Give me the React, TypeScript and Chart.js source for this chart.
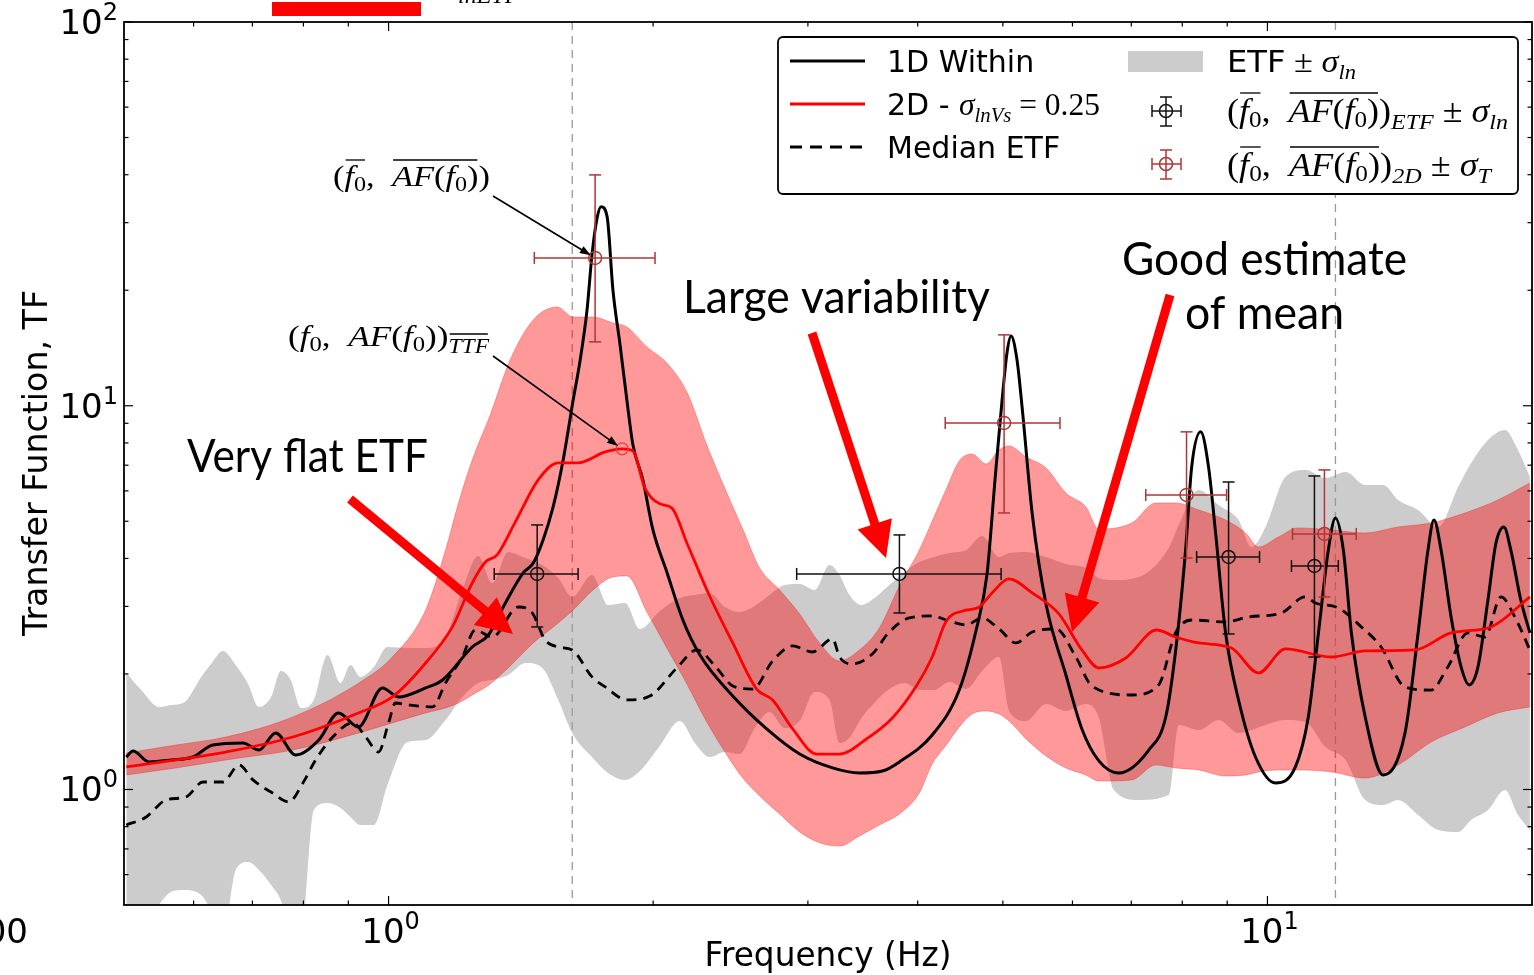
import React, { useEffect, useRef } from "react";
import { Chart, registerables } from "chart.js";
Chart.register(...registerables);

// ---------------- data ----------------
// 1D Within transfer function
const freq1D = [0.503, 0.512, 0.534, 0.566, 0.599, 0.631, 0.683, 0.712, 0.744, 0.784, 0.833, 0.877, 0.924, 0.984, 1.026, 1.102, 1.152, 1.245, 1.299, 1.358, 1.423, 1.461, 1.499, 1.539, 1.580, 1.622, 1.652, 1.682, 1.704, 1.727, 1.745, 1.773, 1.800, 1.834, 1.867, 1.897, 1.947, 1.999, 2.073, 2.162, 2.261, 2.464, 2.693, 2.936, 3.200, 3.434, 3.647, 3.813, 4.155, 4.460, 4.662, 4.797, 4.898, 4.990, 5.056, 5.108, 5.189, 5.258, 5.40, 5.598, 5.898, 6.15, 6.43, 6.77, 7.328, 7.661, 7.864, 8.07, 8.20, 8.395, 8.57, 8.73, 8.962, 9.271, 9.692, 10.21, 10.76, 11.13, 11.43, 11.73, 11.95, 12.20, 12.46, 12.92, 13.54, 14.34, 14.84, 15.23, 15.47, 15.76, 16.18, 16.61, 16.96, 17.36, 17.82, 18.20, 18.58, 18.92, 19.42, 19.89];
const tf1D = [1.215, 1.26, 1.18, 1.194, 1.215, 1.306, 1.322, 1.267, 1.404, 1.23, 1.346, 1.583, 1.455, 1.839, 1.742, 1.839, 1.929, 2.351, 2.527, 3.063, 3.667, 3.894, 4.47, 5.45, 7.22, 10.35, 13.16, 17.77, 24.72, 30.87, 33.0, 31.05, 20.04, 14.40, 10.35, 7.904, 6.41, 4.746, 3.688, 2.765, 2.241, 1.752, 1.438, 1.237, 1.138, 1.104, 1.117, 1.18, 1.387, 1.816, 2.604, 3.645, 6.41, 10.35, 13.81, 15.20, 13.16, 9.93, 5.224, 3.044, 1.988, 1.438, 1.187, 1.104, 1.267, 1.545, 2.31, 4.209, 6.928, 8.55, 6.928, 4.661, 2.558, 1.711, 1.215, 1.04, 1.145, 1.545, 2.558, 4.209, 5.10, 4.209, 2.558, 1.545, 1.091, 1.404, 2.558, 4.209, 5.039, 4.209, 2.816, 2.086, 1.873, 2.086, 3.118, 4.39, 4.83, 4.209, 3.118, 2.558];

// 2D mean (sigma_lnVs = 0.25)
const freq2D = [0.503, 0.573, 0.653, 0.778, 0.924, 1.010, 1.102, 1.182, 1.245, 1.289, 1.329, 1.394, 1.480, 1.560, 1.643, 1.764, 1.844, 1.897, 1.957, 2.035, 2.101, 2.185, 2.319, 2.464, 2.623, 2.735, 2.883, 3.069, 3.26, 3.498, 3.743, 3.986, 4.155, 4.311, 4.50, 4.70, 4.86, 5.08, 5.40, 5.79, 6.15, 6.43, 6.90, 7.48, 7.86, 8.35, 9.10, 9.77, 10.48, 11.82, 12.92, 14.72, 16.18, 17.96, 19.89];
const tf2D = [1.145, 1.194, 1.252, 1.370, 1.583, 1.742, 2.136, 2.652, 3.452, 3.916, 4.086, 4.98, 6.41, 7.10, 7.10, 7.58, 7.72, 7.62, 6.11, 5.55, 5.41, 4.39, 3.193, 2.409, 1.827, 1.711, 1.438, 1.237, 1.237, 1.354, 1.536, 1.861, 2.214, 2.749, 2.919, 2.989, 3.252, 3.537, 3.252, 2.867, 2.31, 2.073, 2.201, 2.604, 2.497, 2.409, 2.338, 2.012, 2.324, 2.214, 2.296, 2.31, 2.558, 2.652, 3.175];

// Median ETF
const freqMed = [0.503, 0.530, 0.558, 0.588, 0.615, 0.648, 0.676, 0.701, 0.738, 0.770, 0.799, 0.826, 0.864, 0.910, 0.942, 0.974, 1.0, 1.018, 1.054, 1.122, 1.161, 1.213, 1.255, 1.312, 1.405, 1.457, 1.507, 1.560, 1.618, 1.704, 1.764, 1.867, 1.983, 2.128, 2.243, 2.362, 2.464, 2.596, 2.735, 2.883, 3.036, 3.20, 3.26, 3.372, 3.552, 3.713, 3.913, 4.155, 4.34, 4.542, 4.735, 4.95, 5.176, 5.40, 5.745, 6.054, 6.313, 7.011, 7.52, 7.86, 8.20, 8.96, 9.515, 10.37, 11.04, 11.34, 12.04, 12.79, 13.47, 14.34, 15.35, 16.04, 16.91, 17.68, 18.44, 19.12, 19.89];
const tfMed = [0.808, 0.848, 0.939, 0.956, 1.046, 1.046, 1.158, 1.059, 0.979, 0.928, 1.04, 1.194, 1.370, 1.491, 1.370, 1.252, 1.491, 1.68, 1.661, 1.641, 1.895, 2.214, 2.604, 2.497, 2.989, 2.884, 2.453, 2.351, 2.31, 1.965, 1.85, 1.711, 1.752, 2.073, 2.31, 2.073, 1.861, 1.827, 2.162, 2.366, 2.282, 2.467, 2.214, 2.124, 2.255, 2.573, 2.799, 2.833, 2.749, 2.684, 2.799, 2.62, 2.409, 2.573, 2.62, 2.214, 1.861, 1.763, 1.873, 2.558, 2.765, 2.733, 2.816, 2.884, 3.175, 3.063, 2.972, 2.652, 2.351, 1.85, 1.816, 2.086, 2.558, 2.497, 3.175, 2.816, 2.31];

// ETF +/- sigma_ln band
const freqEtfBand = [0.503, 0.523, 0.548, 0.566, 0.584, 0.612, 0.628, 0.648, 0.670, 0.692, 0.712, 0.735, 0.754, 0.774, 0.795, 0.822, 0.852, 0.882, 0.905, 0.929, 0.962, 0.997, 1.051, 1.102, 1.161, 1.213, 1.265, 1.312, 1.368, 1.431, 1.496, 1.560, 1.618, 1.704, 1.777, 1.858, 1.932, 2.035, 2.145, 2.231, 2.320, 2.413, 2.509, 2.610, 2.714, 2.822, 2.936, 3.053, 3.175, 3.259, 3.345, 3.451, 3.571, 3.714, 3.863, 4.017, 4.177, 4.345, 4.542, 4.735, 4.950, 5.082, 5.313, 5.598, 5.898, 6.215, 6.430, 6.687, 7.139, 7.721, 7.925, 8.350, 8.798, 9.271, 9.592, 9.949, 10.48, 11.05, 11.64, 12.27, 12.92, 13.54, 14.08, 14.84, 15.64, 16.48, 17.05, 17.82, 18.63, 19.28, 19.89];
const etfUpper = [2.012, 1.816, 1.641, 1.661, 1.680, 1.965, 2.124, 2.296, 2.111, 1.884, 1.641, 1.742, 2.036, 1.929, 1.631, 1.711, 2.241, 1.895, 2.111, 1.965, 2.086, 2.351, 2.338, 2.338, 2.497, 3.311, 4.060, 3.452, 4.159, 4.011, 3.846, 3.558, 3.175, 3.622, 3.026, 3.063, 2.620, 2.919, 3.155, 3.213, 3.252, 2.989, 2.901, 3.007, 3.213, 3.412, 3.432, 3.311, 3.846, 3.622, 3.213, 3.026, 3.155, 3.412, 3.688, 3.916, 4.036, 4.134, 4.209, 4.578, 4.036, 4.134, 4.159, 4.036, 3.870, 3.778, 3.558, 3.516, 3.580, 4.260, 4.891, 6.034, 5.514, 5.039, 4.285, 4.832, 6.524, 6.804, 6.485, 6.723, 6.218, 6.218, 5.682, 5.352, 4.832, 6.144, 7.094, 8.146, 8.649, 7.670, 6.524];
const etfLower = [0.42, 0.42, 0.50, 0.541, 0.547, 0.531, 0.485, 0.42, 0.617, 0.647, 0.617, 0.564, 0.515, 0.42, 0.42, 0.884, 0.922, 0.895, 0.848, 0.808, 0.808, 1.027, 1.330, 1.346, 1.518, 1.742, 1.895, 1.929, 1.988, 2.136, 2.073, 1.711, 1.404, 1.215, 1.104, 1.059, 1.117, 1.298, 1.508, 1.322, 1.215, 1.252, 1.237, 1.446, 1.592, 1.446, 1.508, 1.795, 1.711, 1.322, 1.362, 1.536, 1.680, 1.827, 1.895, 1.816, 1.816, 1.906, 1.827, 2.036, 2.214, 1.602, 1.508, 1.670, 1.602, 1.670, 1.536, 0.997, 0.939, 0.967, 1.473, 1.429, 1.518, 1.404, 1.429, 1.473, 1.518, 1.499, 1.290, 1.194, 0.939, 0.911, 0.939, 0.858, 0.784, 0.775, 0.833, 0.884, 0.997, 0.858, 0.784];

// 2D +/- sigma band
const freq2DBand = [0.503, 0.573, 0.653, 0.778, 0.925, 1.010, 1.102, 1.161, 1.201, 1.245, 1.305, 1.375, 1.461, 1.555, 1.622, 1.709, 1.800, 1.867, 1.968, 2.073, 2.185, 2.302, 2.426, 2.529, 2.644, 2.786, 2.936, 3.093, 3.259, 3.434, 3.618, 3.813, 4.017, 4.155, 4.311, 4.460, 4.613, 4.785, 4.950, 5.082, 5.313, 5.598, 5.898, 6.215, 6.430, 7.009, 7.463, 7.864, 8.350, 8.962, 9.443, 9.768, 10.29, 10.84, 11.82, 12.92, 14.08, 15.36, 16.78, 18.29, 19.89];
const band2DUpper = [1.245, 1.306, 1.370, 1.545, 1.895, 2.214, 2.937, 4.209, 5.580, 7.22, 9.462, 13.16, 16.74, 18.09, 17.03, 17.03, 16.44, 16.05, 14.23, 12.93, 10.86, 7.904, 5.926, 4.775, 3.778, 3.311, 2.867, 2.409, 2.162, 2.310, 2.636, 3.391, 4.209, 5.009, 6.070, 7.180, 7.487, 7.053, 7.670, 7.857, 7.354, 6.886, 5.926, 5.45, 4.775, 4.949, 5.580, 5.580, 5.352, 5.039, 4.661, 4.285, 4.551, 4.803, 4.746, 4.661, 4.832, 4.949, 5.255, 5.682, 6.293];
const band2DLower = [1.091, 1.138, 1.194, 1.267, 1.404, 1.491, 1.583, 1.631, 1.680, 1.763, 1.884, 2.098, 2.409, 2.700, 2.937, 3.311, 3.580, 3.601, 2.901, 2.338, 1.884, 1.499, 1.230, 1.071, 0.962, 0.863, 0.775, 0.726, 0.712, 0.756, 0.808, 0.863, 0.979, 1.166, 1.306, 1.455, 1.573, 1.602, 1.573, 1.508, 1.354, 1.223, 1.138, 1.091, 1.052, 1.059, 1.158, 1.138, 1.124, 1.084, 1.091, 1.111, 1.124, 1.124, 1.111, 1.071, 1.158, 1.330, 1.455, 1.583, 1.641];

// (f0, AF(f0))_ETF +/- sigma_ln error bars
const ebEtfF = [1.476, 3.813, 9.032, 11.31];
const ebEtfFLo = [1.319, 2.913, 8.307, 10.65];
const ebEtfFHi = [1.643, 4.977, 9.795, 12.04];
const ebEtfV = [3.645, 3.645, 4.036, 3.824];
const ebEtfVLo = [2.652, 2.884, 2.543, 2.214];
const ebEtfVHi = [4.891, 4.606, 6.329, 6.561];

// (f0, AF(f0))_2D +/- sigma_T error bars
const eb2DF = [1.718, 5.016, 8.09, 11.61];
const eb2DFLo = [1.465, 4.299, 7.27, 10.68];
const eb2DFHi = [2.010, 5.807, 8.985, 12.62];
const eb2DV = [24.28, 9.02, 5.856, 4.634];
const eb2DVLo = [14.67, 5.255, 4.011, 3.175];
const eb2DVHi = [39.95, 15.30, 8.55, 6.804];

// TTF peak marker and vertical reference lines
const ttfPeakF = 1.844;
const ttfPeakV = 7.72;
const vLinesF = [1.618, 11.95];

// axis ticks
const xMajorTicks = [1, 10];
const xMajorExp = ["0", "1"];
const xMinorTicks = [0.6, 0.7, 0.8, 0.9, 2, 3, 4, 5, 6, 7, 8, 9];
const yMajorTicks = [1, 10, 100];
const yMajorExp = ["0", "1", "2"];
const yMinorTicks = [0.6, 0.7, 0.8, 0.9, 2, 3, 4, 5, 6, 7, 8, 9, 20, 30, 40, 50, 60, 70, 80, 90];

// ---------------- drawing helpers ----------------
const SANS = '"DejaVu Sans", sans-serif';
const SERIF = '"Liberation Serif", "DejaVu Serif", serif';
const LATO = 'Lato, "Open Sans", sans-serif';

type Seg = { t: string; f?: string; i?: boolean; s: number; dy?: number; ol?: number };

function fontOf(g: Seg) {
  const fam = g.f === "sans" ? SANS : g.f === "lato" ? LATO : SERIF;
  return `${g.i ? "italic " : ""}${g.s}px ${fam}`;
}

function drawRich(ctx: CanvasRenderingContext2D, x: number, y: number, segs: Seg[], opts: any = {}) {
  let nat = 0;
  for (const g of segs) {
    ctx.font = fontOf(g);
    nat += ctx.measureText(g.t).width;
  }
  const k = opts.w ? opts.w / nat : 1;
  const total = nat * k;
  const color = opts.color || "#000";
  ctx.save();
  ctx.translate(x, y);
  if (opts.rot) ctx.rotate(opts.rot);
  const x0 = opts.align === "center" ? -total / 2 : opts.align === "right" ? -total : 0;
  ctx.translate(x0, 0);
  ctx.scale(k, 1);
  ctx.textAlign = "left";
  ctx.textBaseline = "alphabetic";
  ctx.fillStyle = color;
  let cx = 0;
  const ols: { a: number; b: number; o: number }[] = [];
  for (const g of segs) {
    ctx.font = fontOf(g);
    const w = ctx.measureText(g.t).width;
    ctx.fillText(g.t, cx, g.dy || 0);
    if (g.ol) {
      const last = ols[ols.length - 1];
      if (last && last.o === g.ol && Math.abs(last.b - cx) < 0.5) last.b = cx + w;
      else ols.push({ a: cx, b: cx + w, o: g.ol });
    }
    cx += w;
  }
  ctx.strokeStyle = color;
  ctx.lineWidth = 1.3;
  for (const o of ols) {
    ctx.beginPath();
    ctx.moveTo(o.a + 1, -o.o);
    ctx.lineTo(o.b - 1, -o.o);
    ctx.stroke();
  }
  ctx.restore();
}

function line(ctx: CanvasRenderingContext2D, x1: number, y1: number, x2: number, y2: number) {
  ctx.beginPath();
  ctx.moveTo(x1, y1);
  ctx.lineTo(x2, y2);
  ctx.stroke();
}

function arrow(ctx: CanvasRenderingContext2D, x1: number, y1: number, x2: number, y2: number, lw: number, hl: number, hw: number, color: string) {
  const dx = x2 - x1, dy = y2 - y1;
  const L = Math.hypot(dx, dy);
  const ux = dx / L, uy = dy / L;
  const bx = x2 - ux * hl, by = y2 - uy * hl;
  ctx.save();
  ctx.strokeStyle = color;
  ctx.fillStyle = color;
  ctx.lineWidth = lw;
  ctx.lineCap = "butt";
  line(ctx, x1, y1, x2 - ux * hl * 0.8, y2 - uy * hl * 0.8);
  ctx.beginPath();
  ctx.moveTo(x2, y2);
  ctx.lineTo(bx - uy * hw / 2, by + ux * hw / 2);
  ctx.lineTo(bx + uy * hw / 2, by - ux * hw / 2);
  ctx.closePath();
  ctx.fill();
  ctx.restore();
}

function errSymbol(ctx: CanvasRenderingContext2D, cx: number, cy: number, x1: number, x2: number, y1: number, y2: number, color: string) {
  ctx.save();
  ctx.strokeStyle = color;
  ctx.lineWidth = 1.5;
  line(ctx, x1, cy, x2, cy);
  line(ctx, cx, y1, cx, y2);
  line(ctx, x1, cy - 6, x1, cy + 6);
  line(ctx, x2, cy - 6, x2, cy + 6);
  line(ctx, cx - 6, y1, cx + 6, y1);
  line(ctx, cx - 6, y2, cx + 6, y2);
  ctx.beginPath();
  ctx.arc(cx, cy, 6.5, 0, Math.PI * 2);
  ctx.stroke();
  ctx.restore();
}

function pts(xs: number[], ys: number[]) {
  return xs.map((x, i) => ({ x, y: ys[i] }));
}

const RED_EB = "rgb(178,52,52)";

function drawVLines(chart: any) {
  const { ctx, chartArea: a, scales } = chart;
  ctx.save();
  ctx.strokeStyle = "#9a9a9a";
  ctx.lineWidth = 1.3;
  ctx.setLineDash([8, 6]);
  for (const f of vLinesF) {
    const px = scales.x.getPixelForValue(f);
    line(ctx, px, a.top, px, a.bottom);
  }
  ctx.restore();
}

function drawOverlay(chart: any) {
  const { ctx, chartArea: a, scales } = chart;
  const X = scales.x, Y = scales.y;

  // error bars
  ctx.save();
  ctx.beginPath();
  ctx.rect(a.left, a.top, a.right - a.left, a.bottom - a.top);
  ctx.clip();
  for (let i = 0; i < ebEtfF.length; i++) {
    errSymbol(ctx, X.getPixelForValue(ebEtfF[i]), Y.getPixelForValue(ebEtfV[i]), X.getPixelForValue(ebEtfFLo[i]), X.getPixelForValue(ebEtfFHi[i]), Y.getPixelForValue(ebEtfVHi[i]), Y.getPixelForValue(ebEtfVLo[i]), "#111");
  }
  for (let i = 0; i < eb2DF.length; i++) {
    errSymbol(ctx, X.getPixelForValue(eb2DF[i]), Y.getPixelForValue(eb2DV[i]), X.getPixelForValue(eb2DFLo[i]), X.getPixelForValue(eb2DFHi[i]), Y.getPixelForValue(eb2DVHi[i]), Y.getPixelForValue(eb2DVLo[i]), RED_EB);
  }
  // TTF peak marker
  ctx.strokeStyle = "rgb(230,60,60)";
  ctx.lineWidth = 1.4;
  ctx.beginPath();
  ctx.arc(X.getPixelForValue(ttfPeakF), Y.getPixelForValue(ttfPeakV), 6, 0, Math.PI * 2);
  ctx.stroke();
  ctx.restore();

  // ticks
  ctx.save();
  ctx.strokeStyle = "#000";
  ctx.lineWidth = 1.2;
  for (const v of xMajorTicks) {
    const p = X.getPixelForValue(v);
    line(ctx, p, a.bottom, p, a.bottom - 9);
    line(ctx, p, a.top, p, a.top + 9);
  }
  for (const v of xMinorTicks) {
    const p = X.getPixelForValue(v);
    line(ctx, p, a.bottom, p, a.bottom - 4.5);
    line(ctx, p, a.top, p, a.top + 4.5);
  }
  for (const v of yMajorTicks) {
    const p = Y.getPixelForValue(v);
    line(ctx, a.left, p, a.left + 9, p);
    line(ctx, a.right, p, a.right - 9, p);
  }
  for (const v of yMinorTicks) {
    const p = Y.getPixelForValue(v);
    line(ctx, a.left, p, a.left + 4.5, p);
    line(ctx, a.right, p, a.right - 4.5, p);
  }
  ctx.lineWidth = 1.8;
  ctx.strokeRect(a.left, a.top, a.right - a.left, a.bottom - a.top);
  ctx.restore();

  // tick labels
  xMajorTicks.forEach((v, i) => {
    drawRich(ctx, X.getPixelForValue(v) + 2, 943, [{ t: "10", f: "sans", s: 34 }, { t: xMajorExp[i], f: "sans", s: 24, dy: -14 }], { align: "center" });
  });
  yMajorTicks.forEach((v, i) => {
    drawRich(ctx, 118, Y.getPixelForValue(v) + 12, [{ t: "10", f: "sans", s: 34 }, { t: yMajorExp[i], f: "sans", s: 24, dy: -14 }], { align: "right" });
  });
  drawRich(ctx, 28, 943, [{ t: "00", f: "sans", s: 34 }], { align: "right" });

  // axis titles
  drawRich(ctx, 828, 966, [{ t: "Frequency (Hz)", f: "sans", s: 33 }], { align: "center", w: 247 });
  drawRich(ctx, 47, 463, [{ t: "Transfer Function, TF", f: "sans", s: 33 }], { align: "center", w: 346, rot: -Math.PI / 2 });

  // math annotations with arrows
  const ann1: Seg[] = [
    { t: "(", s: 30 }, { t: "f", i: true, s: 30, ol: 26 }, { t: "0", s: 21, dy: 5, ol: 26 }, { t: ",  ", s: 30 },
    { t: "AF", i: true, s: 30, ol: 26 }, { t: "(", s: 30, ol: 26 }, { t: "f", i: true, s: 30, ol: 26 }, { t: "0", s: 21, dy: 5, ol: 26 }, { t: ")", s: 30, ol: 26 }, { t: ")", s: 30 },
  ];
  drawRich(ctx, 333, 186, ann1, { w: 157 });
  const ann2: Seg[] = [
    { t: "(", s: 30 }, { t: "f", i: true, s: 30 }, { t: "0", s: 21, dy: 5 }, { t: ",  ", s: 30 },
    { t: "AF", i: true, s: 30 }, { t: "(", s: 30 }, { t: "f", i: true, s: 30 }, { t: "0", s: 21, dy: 5 }, { t: "))", s: 30 },
    { t: "TTF", i: true, s: 20, dy: 7, ol: 12 },
  ];
  drawRich(ctx, 288, 346, ann2, { w: 201 });
  {
    const tx = X.getPixelForValue(eb2DF[0]), ty = Y.getPixelForValue(eb2DV[0]);
    const sx = 493, sy = 196;
    const L = Math.hypot(tx - sx, ty - sy);
    arrow(ctx, sx, sy, tx - ((tx - sx) / L) * 5, ty - ((ty - sy) / L) * 5, 1.6, 11, 8, "#000");
    const qx = X.getPixelForValue(ttfPeakF), qy = Y.getPixelForValue(ttfPeakV);
    const rx = 493, ry = 356;
    const M = Math.hypot(qx - rx, qy - ry);
    arrow(ctx, rx, ry, qx - ((qx - rx) / M) * 5, qy - ((qy - ry) / M) * 5, 1.6, 11, 8, "#000");
  }

  // legend
  ctx.save();
  const lx = 778, ly = 37, lw = 740, lh = 157;
  ctx.beginPath();
  ctx.roundRect(lx, ly, lw, lh, 5);
  ctx.fillStyle = "#fff";
  ctx.fill();
  ctx.strokeStyle = "#000";
  ctx.lineWidth = 1.8;
  ctx.stroke();
  ctx.lineWidth = 3;
  ctx.strokeStyle = "#000";
  line(ctx, 790, 61, 865, 61);
  ctx.strokeStyle = "#ff0000";
  line(ctx, 790, 104, 865, 104);
  ctx.strokeStyle = "#000";
  ctx.setLineDash([12, 8]);
  line(ctx, 790, 147, 865, 147);
  ctx.setLineDash([]);
  ctx.fillStyle = "#cccccc";
  ctx.fillRect(1128, 51, 75, 21);
  ctx.restore();
  errSymbol(ctx, 1166, 111, 1152, 1181, 97, 126, "#111");
  errSymbol(ctx, 1166, 164, 1152, 1181, 150, 179, RED_EB);
  drawRich(ctx, 887, 72, [{ t: "1D Within", f: "sans", s: 30 }]);
  drawRich(ctx, 887, 115, [{ t: "2D - ", f: "sans", s: 30 }]);
  drawRich(ctx, 959, 115, [{ t: "σ", i: true, s: 32 }, { t: "lnVs", i: true, s: 21, dy: 7 }, { t: " = 0.25", s: 32 }], { w: 141 });
  drawRich(ctx, 887, 158, [{ t: "Median ETF", f: "sans", s: 30 }]);
  drawRich(ctx, 1227, 72, [{ t: "ETF", f: "sans", s: 30 }, { t: " ± ", s: 32 }, { t: "σ", i: true, s: 32 }, { t: "ln", i: true, s: 21, dy: 7 }], { w: 129 });
  const legA: Seg[] = [
    { t: "(", s: 33 }, { t: "f", i: true, s: 33, ol: 29 }, { t: "0", s: 23, dy: 5, ol: 29 }, { t: ",  ", s: 33 },
    { t: "AF", i: true, s: 33, ol: 29 }, { t: "(", s: 33, ol: 29 }, { t: "f", i: true, s: 33, ol: 29 }, { t: "0", s: 23, dy: 5, ol: 29 }, { t: ")", s: 33, ol: 29 }, { t: ")", s: 33 },
  ];
  drawRich(ctx, 1227, 122, [...legA, { t: "ETF", i: true, s: 22, dy: 7 }, { t: " ± ", s: 33 }, { t: "σ", i: true, s: 33 }, { t: "ln", i: true, s: 22, dy: 7 }], { w: 281 });
  drawRich(ctx, 1227, 176, [...legA, { t: "2D", i: true, s: 22, dy: 7 }, { t: " ± ", s: 33 }, { t: "σ", i: true, s: 33 }, { t: "T", i: true, s: 22, dy: 7 }], { w: 264 });

  // slide annotations
  drawRich(ctx, 187, 472, [{ t: "Very flat ETF", f: "lato", s: 46 }], { w: 241 });
  drawRich(ctx, 683, 313, [{ t: "Large variability", f: "lato", s: 46 }], { w: 307 });
  drawRich(ctx, 1122, 275, [{ t: "Good estimate", f: "lato", s: 46 }], { w: 285 });
  drawRich(ctx, 1185, 329, [{ t: "of mean", f: "lato", s: 46 }], { w: 159 });
  arrow(ctx, 350, 499, 513, 634, 9, 36, 36, "#ff0000");
  arrow(ctx, 812, 333, 886, 558, 9, 36, 36, "#ff0000");
  arrow(ctx, 1170, 295, 1072, 632, 9, 36, 36, "#ff0000");

  // top cut-off title fragment
  ctx.save();
  ctx.fillStyle = "#ff0000";
  ctx.fillRect(272, 2, 149, 14);
  ctx.restore();
  drawRich(ctx, 458, 3, [{ t: "lnETF", i: true, s: 24 }]);
}

export default function App() {
  const ref = useRef<HTMLCanvasElement>(null);
  useEffect(() => {
    const canvas = ref.current!;
    const overlay = {
      id: "overlay",
      afterDatasetDraw(chart: any, args: any) {
        if (args.index === 1) drawVLines(chart);
      },
      afterDraw(chart: any) {
        drawOverlay(chart);
      },
    };
    const common = { pointRadius: 0, pointHoverRadius: 0, cubicInterpolationMode: "monotone" as const };
    const chart = new Chart(canvas, {
      type: "line",
      data: {
        datasets: [
          { ...common, label: "ETF upper", data: pts(freqEtfBand, etfUpper), borderColor: "rgba(0,0,0,0)", borderWidth: 0, fill: false, order: 10 },
          { ...common, label: "ETF ± σln", data: pts(freqEtfBand, etfLower), borderColor: "rgba(0,0,0,0)", borderWidth: 0, backgroundColor: "#cccccc", fill: "-1", order: 10 },
          { ...common, label: "2D upper", data: pts(freq2DBand, band2DUpper), borderColor: "rgba(255,0,0,0.3)", borderWidth: 1, fill: false, order: 9 },
          { ...common, label: "2D band", data: pts(freq2DBand, band2DLower), borderColor: "rgba(255,0,0,0.3)", borderWidth: 1, backgroundColor: "rgba(255,0,0,0.4)", fill: "-1", order: 9 },
          { ...common, label: "Median ETF", data: pts(freqMed, tfMed), borderColor: "#000", borderWidth: 2.8, borderDash: [10, 7], fill: false, order: 3 },
          { ...common, label: "1D Within", data: pts(freq1D, tf1D), borderColor: "#000", borderWidth: 3, fill: false, order: 2 },
          { ...common, label: "2D", data: pts(freq2D, tf2D), borderColor: "#ff0000", borderWidth: 2.8, fill: false, order: 1 },
        ],
      },
      options: {
        responsive: false,
        animation: false,
        devicePixelRatio: 1,
        events: [],
        layout: { padding: { left: 124, right: 2, top: 22, bottom: 70 } },
        scales: {
          x: { type: "logarithmic", min: 0.5, max: 20, display: false },
          y: { type: "logarithmic", min: 0.5, max: 100, display: false },
        },
        plugins: { legend: { display: false }, tooltip: { enabled: false }, title: { display: false } },
      },
      plugins: [overlay],
    } as any);
    return () => chart.destroy();
  }, []);
  return (
    <div style={{ position: "absolute", left: 0, top: 0, width: 1534, height: 975, background: "#fff", overflow: "hidden" }}>
      <canvas ref={ref} width={1534} height={975} style={{ width: 1534, height: 975, display: "block" }} />
    </div>
  );
}
